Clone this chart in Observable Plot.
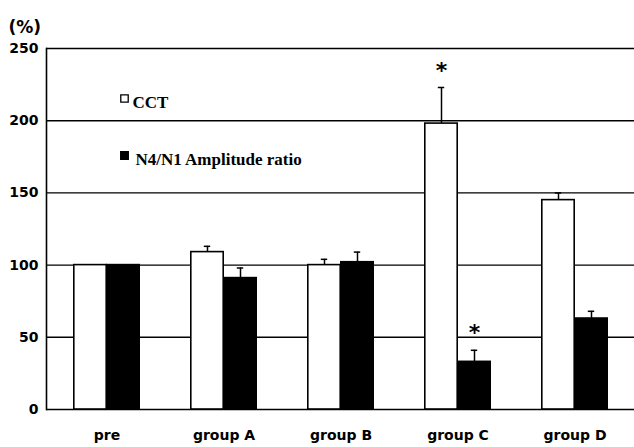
<!DOCTYPE html>
<html>
<head>
<meta charset="utf-8">
<script src="https://cdn.jsdelivr.net/npm/d3@7"></script>
<script src="https://cdn.jsdelivr.net/npm/@observablehq/plot@0.6"></script>
<style>
  html, body { margin: 0; padding: 0; background: #fff; }
  #chart svg { display: block; }
</style>
</head>
<body>
<div id="chart"></div>
<script>
const categories = ["pre", "group A", "group B", "group C", "group D"];
const seriesNames = ["CCT", "N4/N1 Amplitude ratio"];
const cctValues = [100, 109, 100, 198, 145];
const cctUpper = [null, 113, 104, 223, 150];
const ratioValues = [100, 91, 102, 33, 63];
const ratioUpper = [null, 98, 109, 41, 68];
const yTicks = [0, 50, 100, 150, 200, 250];
const starredCCT = ["group C"];
const starredRatio = ["group C"];

const cct = categories.map((g, i) => ({group: g, value: cctValues[i], upper: cctUpper[i]}));
const ratio = categories.map((g, i) => ({group: g, value: ratioValues[i], upper: ratioUpper[i]}));
const starCCT = cct.filter(d => starredCCT.includes(d.group));
const starRatio = ratio.filter(d => starredRatio.includes(d.group));

const W = 634, H = 447, mL = 46, mR = 0;
const band = (W - mL - mR) / categories.length;
const barW = 33;
const off = barW / 2;
const barInset = (band - barW) / 2;
const capInset = (band - 7) / 2;

const starStyle = {x: "group", y: "upper", text: () => "*", dy: -17,
  fontFamily: "DejaVu Sans", fontWeight: "bold", fontSize: 22, fill: "#000"};

const chart = Plot.plot({
  width: W,
  height: H,
  marginLeft: mL,
  marginRight: mR,
  marginTop: 48,
  marginBottom: 38,
  style: {background: "#fff", color: "#000"},
  x: {domain: categories, padding: 0, label: null},
  y: {domain: [0, 250], label: null},
  marks: [
    Plot.gridY(yTicks, {stroke: "#000", strokeOpacity: 1, strokeWidth: 1.4}),
    Plot.barY(cct, {x: "group", y: "value", fill: "#fff", stroke: "#000", strokeWidth: 1.6,
      insetLeft: barInset, insetRight: barInset, dx: -off}),
    Plot.barY(ratio, {x: "group", y: "value", fill: "#000", stroke: "#000", strokeWidth: 1.6,
      insetLeft: barInset, insetRight: barInset, dx: off}),
    Plot.ruleX(cct.filter(d => d.upper != null), {x: "group", y1: "value", y2: "upper", stroke: "#000", strokeWidth: 1.5, dx: -off}),
    Plot.tickY(cct.filter(d => d.upper != null), {x: "group", y: "upper", stroke: "#000", strokeWidth: 1.5, insetLeft: capInset, insetRight: capInset, dx: -off}),
    Plot.ruleX(ratio.filter(d => d.upper != null), {x: "group", y1: "value", y2: "upper", stroke: "#000", strokeWidth: 1.5, dx: off}),
    Plot.tickY(ratio.filter(d => d.upper != null), {x: "group", y: "upper", stroke: "#000", strokeWidth: 1.5, insetLeft: capInset, insetRight: capInset, dx: off}),
    Plot.text(starCCT, {...starStyle, dx: -off}),
    Plot.text(starRatio, {...starStyle, dx: off}),
    Plot.axisY({ticks: yTicks, tickSize: 0, tickPadding: 8, fontFamily: "DejaVu Sans", fontWeight: "bold", fontSize: 14, label: null}),
    Plot.axisX({tickSize: 0, tickPadding: 21, fontFamily: "DejaVu Sans", fontWeight: "bold", fontSize: 14, label: null}),
    Plot.frame({anchor: "left", stroke: "#000", strokeWidth: 1.6}),
    Plot.text(["(%)"], {frameAnchor: "top-left", dx: -38, dy: -28, textAnchor: "start",
      fontFamily: "DejaVu Sans", fontWeight: "bold", fontSize: 17, fill: "#000"}),
    Plot.dot([seriesNames[0]], {frameAnchor: "top-left", dx: 78, dy: 50, symbol: "square", r: 4.2, fill: "#fff", stroke: "#000", strokeWidth: 1.3}),
    Plot.text([seriesNames[0]], {frameAnchor: "top-left", dx: 86, dy: 47, textAnchor: "start",
      fontFamily: "Liberation Serif", fontWeight: "bold", fontSize: 17, fill: "#000"}),
    Plot.dot([seriesNames[1]], {frameAnchor: "top-left", dx: 78, dy: 107, symbol: "square", r: 4.2, fill: "#000", stroke: "#000"}),
    Plot.text([seriesNames[1]], {frameAnchor: "top-left", dx: 89, dy: 104, textAnchor: "start",
      fontFamily: "Liberation Serif", fontWeight: "bold", fontSize: 17, fill: "#000", style: "letter-spacing:0.4px"})
  ]
});

document.getElementById("chart").appendChild(chart);
</script>
</body>
</html>
